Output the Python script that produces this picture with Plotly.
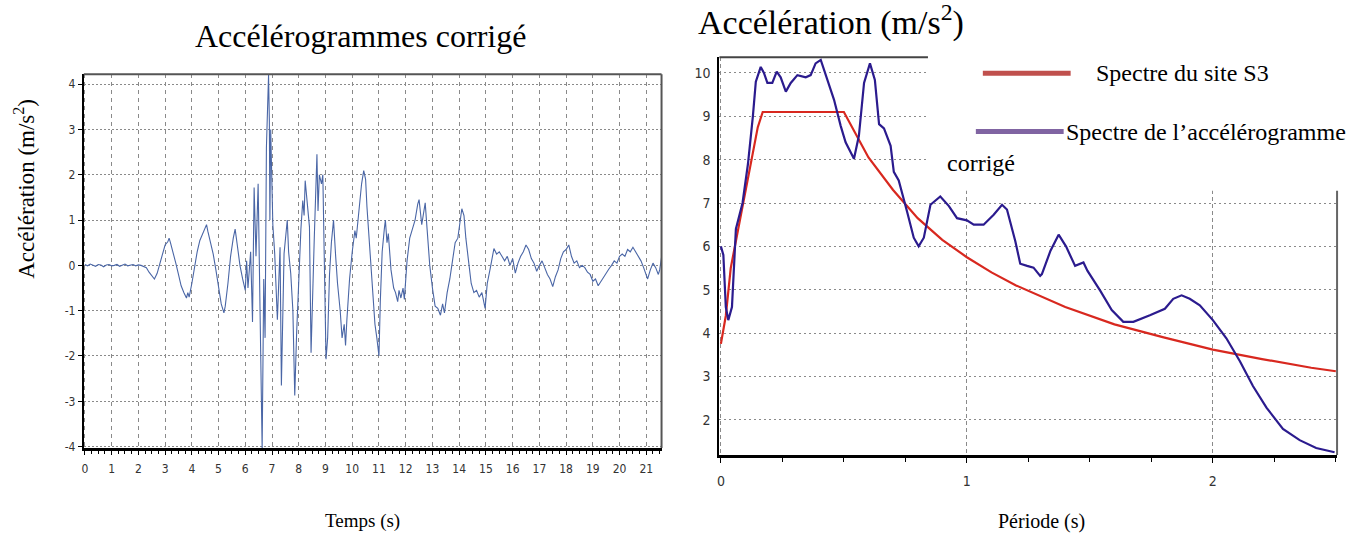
import plotly.graph_objects as go

# --- Accélérogramme corrigé : temps (s) / accélération (m/s²) ---
temps = [
    0.0, 0.1, 0.2, 0.3, 0.4, 0.5, 0.6, 0.7, 0.8, 0.9,
    1.0, 1.1, 1.2, 1.3, 1.4, 1.5, 1.6, 1.7, 1.8, 1.9,
    2.0, 2.1, 2.2, 2.3, 2.4, 2.5, 2.6, 2.7, 2.8, 2.9,
    3.0, 3.1, 3.15, 3.2, 3.3, 3.4, 3.5, 3.6, 3.7, 3.8,
    3.85, 3.9, 4.0, 4.1, 4.2, 4.3, 4.4, 4.5, 4.55, 4.6,
    4.7, 4.8, 4.9, 5.0, 5.1, 5.2, 5.25, 5.35, 5.45, 5.55,
    5.62, 5.7, 5.8, 5.9, 6.0, 6.05, 6.1, 6.2, 6.27, 6.33,
    6.4, 6.48, 6.55, 6.63, 6.69, 6.74, 6.79, 6.87, 6.9, 6.92,
    6.95, 6.99, 7.03, 7.1, 7.2, 7.3, 7.35, 7.45, 7.57, 7.62,
    7.7, 7.78, 7.85, 7.92, 8.0, 8.08, 8.15, 8.2, 8.24, 8.3,
    8.4, 8.46, 8.52, 8.58, 8.68, 8.72, 8.77, 8.85, 8.9, 8.96,
    9.02, 9.08, 9.15, 9.22, 9.3, 9.38, 9.45, 9.55, 9.62, 9.7,
    9.75, 9.8, 9.9, 10.0, 10.1, 10.15, 10.25, 10.35, 10.43, 10.5,
    10.55, 10.65, 10.75, 10.85, 10.92, 11.0, 11.05, 11.12, 11.2, 11.24,
    11.3, 11.35, 11.45, 11.55, 11.62, 11.7, 11.75, 11.82, 11.9, 11.95,
    12.05, 12.15, 12.25, 12.35, 12.45, 12.5, 12.6, 12.68, 12.73, 12.8,
    12.9, 13.0, 13.1, 13.2, 13.3, 13.38, 13.45, 13.55, 13.65, 13.75,
    13.85, 13.95, 14.05, 14.1, 14.18, 14.25, 14.35, 14.45, 14.55, 14.65,
    14.75, 14.85, 14.97, 15.05, 15.16, 15.3, 15.4, 15.5, 15.6, 15.7,
    15.8, 15.9, 16.0, 16.1, 16.2, 16.3, 16.4, 16.5, 16.6, 16.7,
    16.8, 16.9, 17.0, 17.1, 17.2, 17.3, 17.4, 17.5, 17.6, 17.7,
    17.8, 17.9, 18.0, 18.1, 18.2, 18.3, 18.4, 18.5, 18.6, 18.7,
    18.8, 18.9, 19.0, 19.1, 19.2, 19.3, 19.4, 19.5, 19.6, 19.7,
    19.8, 19.9, 20.0, 20.1, 20.2, 20.3, 20.4, 20.5, 20.6, 20.7,
    20.8, 20.9, 21.0, 21.05, 21.15, 21.25, 21.35, 21.45, 21.5, 21.55,
    21.6,
]
acceleration = [
    0.02, -0.01, 0.03, 0.0, -0.02, 0.02, 0.01, -0.03, 0.01, 0.02,
    -0.01, 0.0, 0.02, -0.02, 0.01, 0.03, -0.01, 0.0, 0.02, -0.01,
    0.01, 0.0, -0.02, -0.05, -0.15, -0.22, -0.3, -0.18, 0.05, 0.25,
    0.45, 0.52, 0.6, 0.5, 0.3, 0.05, -0.2, -0.45, -0.6, -0.72,
    -0.6, -0.7, -0.4, -0.05, 0.3, 0.55, 0.7, 0.85, 0.9, 0.75,
    0.5, 0.25, -0.1, -0.5, -0.85, -1.05, -0.9, -0.4, 0.2, 0.6,
    0.8, 0.45, 0.0, -0.3, -0.55, 0.1, -0.5, 0.3, -1.25, 1.72,
    0.2, 1.8, -0.5, -4.05, -0.3, -1.6, 2.6, 4.2, 3.2, 1.0,
    3.0, 2.2, 0.9, 0.26, -1.2, 0.4, -2.65, 0.26, 1.0, 0.3,
    -0.18, -1.0, -2.87, -1.5, -0.18, 0.8, 1.43, 1.1, 1.87, 1.5,
    0.85, -1.93, -0.5, 0.6, 2.45, 1.2, 2.0, 1.8, 2.0, -0.5,
    -2.07, -1.6, -0.2, 0.5, 1.0, 0.2, -0.4, -1.0, -1.6, -1.3,
    -1.77, -1.2, -0.3, 0.3, 0.77, 0.6, 1.2, 1.8, 2.09, 1.9,
    1.3, 0.5, -0.5, -1.3, -1.6, -2.0, -0.8, 0.3, 0.8, 1.0,
    0.5, 0.7, -0.1, -0.5, -0.6, -0.8, -0.55, -0.72, -0.5, -0.75,
    0.1, 0.6, 0.8, 1.0, 1.35, 1.45, 0.9, 1.2, 1.38, 0.8,
    0.0, -0.5, -0.9, -0.95, -1.1, -0.85, -1.05, -0.6, -0.3, 0.1,
    0.5, 0.6, 1.0, 1.25, 1.1, 0.6, 0.1, -0.4, -0.6, -0.55,
    -0.7, -0.6, -0.95, -0.4, -0.07, 0.37, 0.25, 0.3, 0.2, 0.1,
    0.2, 0.0, 0.15, -0.17, 0.05, 0.2, 0.3, 0.45, 0.35, 0.15,
    0.05, -0.13, 0.0, 0.1, -0.05, -0.2, -0.3, -0.47, -0.25, -0.1,
    0.15, 0.3, 0.35, 0.45, 0.2, 0.05, 0.1, -0.05, 0.0, -0.05,
    -0.15, -0.2, -0.35, -0.3, -0.45, -0.35, -0.25, -0.15, -0.08, 0.0,
    0.1, 0.05, 0.2, 0.25, 0.2, 0.35, 0.3, 0.4, 0.3, 0.2,
    0.1, -0.05, -0.2, -0.3, -0.1, 0.05, -0.05, -0.2, -0.1, 0.15,
    0.3,
]
assert len(temps) == len(acceleration)

# --- Spectre réglementaire du site S3 ---
periode_site = [0.0, 0.01, 0.02, 0.04, 0.08, 0.12, 0.15, 0.17, 0.3, 0.4,
                0.5, 0.6, 0.7, 0.8, 0.9, 1.0, 1.1, 1.2, 1.4, 1.6,
                1.8, 2.0, 2.2, 2.4, 2.5]
spectre_site = [3.75, 4.1, 4.4, 5.5, 6.7, 7.85, 8.75, 9.1, 9.1, 9.1,
                9.1, 8.05, 7.3, 6.65, 6.15, 5.75, 5.4, 5.1, 4.6, 4.2,
                3.9, 3.62, 3.4, 3.2, 3.12]

# --- Spectre de réponse de l'accélérogramme corrigé ---
periode_acc = [0.0, 0.01, 0.02, 0.03, 0.045, 0.061, 0.088, 0.11, 0.13, 0.142,
               0.162, 0.175, 0.189, 0.209, 0.227, 0.243, 0.264, 0.284, 0.311, 0.345,
               0.365, 0.385, 0.406, 0.419, 0.44, 0.46, 0.487, 0.507, 0.541, 0.561,
               0.582, 0.606, 0.626, 0.643, 0.663, 0.69, 0.703, 0.723, 0.757, 0.784,
               0.804, 0.825, 0.852, 0.892, 0.927, 0.96, 1.0, 1.028, 1.068, 1.109,
               1.143, 1.163, 1.197, 1.217, 1.245, 1.271, 1.298, 1.305, 1.34, 1.373,
               1.403, 1.44, 1.474, 1.49, 1.542, 1.589, 1.636, 1.677, 1.744, 1.805,
               1.839, 1.873, 1.906, 1.947, 2.0, 2.055, 2.11, 2.163, 2.218, 2.285,
               2.353, 2.42, 2.495]
spectre_acc = [6.0, 5.8, 4.6, 4.3, 4.6, 6.4, 7.0, 7.9, 9.0, 9.8,
               10.14, 10.0, 9.77, 9.77, 10.03, 9.9, 9.57, 9.77, 9.95, 9.9,
               9.95, 10.22, 10.3, 10.07, 9.75, 9.38, 8.78, 8.4, 8.02, 8.55,
               9.77, 10.22, 9.84, 8.82, 8.72, 8.32, 7.72, 7.52, 6.8, 6.2,
               6.0, 6.2, 6.96, 7.15, 6.93, 6.65, 6.6, 6.5, 6.5, 6.73,
               6.96, 6.85, 6.12, 5.6, 5.55, 5.51, 5.32, 5.36, 5.9, 6.27,
               6.0, 5.55, 5.63, 5.44, 4.98, 4.53, 4.26, 4.26, 4.41, 4.56,
               4.79, 4.87, 4.79, 4.64, 4.3, 3.88, 3.35, 2.78, 2.28, 1.79,
               1.53, 1.35, 1.25]
assert len(periode_acc) == len(spectre_acc)

# --- Graduations ---
ticks_temps = list(range(0, 22))
ticks_acc = [-4, -3, -2, -1, 0, 1, 2, 3, 4]
labels_acc = ["-4", "-3", "-2", "-1", "0", "1", "2", "3", "4"]
ticks_periode = [0, 1, 2]
ticks_spectre = [2, 3, 4, 5, 6, 7, 8, 9, 10]

W, H = 1362, 541


def fx(px):
    return px / W


def fy(py):
    return 1 - py / H


SERIF = "Liberation Serif, Times New Roman, serif"
NARROW = "Liberation Sans Narrow, DejaVu Sans Condensed, Arial Narrow, sans-serif"
GRID = "#8a8a8a"

fig = go.Figure()

fig.add_trace(go.Scatter(
    x=temps, y=acceleration, mode="lines",
    line=dict(color="#4a66a6", width=1.1),
    xaxis="x", yaxis="y", showlegend=False, hoverinfo="skip",
))
fig.add_trace(go.Scatter(
    x=periode_site, y=spectre_site, mode="lines",
    line=dict(color="#d8281f", width=2.2),
    xaxis="x2", yaxis="y2", showlegend=False,
))
fig.add_trace(go.Scatter(
    x=periode_acc, y=spectre_acc, mode="lines",
    line=dict(color="#2b1b8e", width=2.2),
    xaxis="x2", yaxis="y2", showlegend=False,
))

fig.update_layout(
    width=W, height=H, autosize=False,
    margin=dict(l=0, r=0, t=0, b=0),
    paper_bgcolor="white", plot_bgcolor="white",
    showlegend=False,
    xaxis=dict(
        domain=[fx(81), fx(660)], anchor="y",
        range=[-0.04, 21.57],
        tickmode="array", tickvals=ticks_temps,
        ticktext=[str(v) for v in ticks_temps],
        ticks="outside", ticklen=4, tickcolor="black",
        ticklabelstandoff=4,
        tickfont=dict(family=NARROW, size=12, color="#333"),
        minor=dict(dtick=0.25, tick0=0, ticks="outside", ticklen=3,
                   tickcolor="black", showgrid=False),
        showline=True, linecolor="black", linewidth=3,
        showgrid=True, gridcolor=GRID, gridwidth=1, griddash="4px,4px",
        zeroline=False,
    ),
    yaxis=dict(
        domain=[fy(453), fy(75)], anchor="x",
        range=[-4.03, 4.22],
        tickmode="array", tickvals=ticks_acc, ticktext=labels_acc,
        ticks="outside", ticklen=4, tickcolor="black",
        tickfont=dict(family=NARROW, size=12, color="#333"),
        showline=True, linecolor="black", linewidth=2,
        showgrid=True, gridcolor=GRID, gridwidth=1, griddash="2px,2px",
        zeroline=False,
    ),
    xaxis2=dict(
        domain=[fx(718), fx(1337)], anchor="y2",
        range=[-0.006, 2.505],
        tickmode="array", tickvals=ticks_periode,
        ticktext=[str(v) for v in ticks_periode],
        ticks="outside", ticklen=5, tickcolor="black",
        ticklabelstandoff=6,
        tickfont=dict(family=NARROW, size=14, color="#333"),
        minor=dict(dtick=0.25, tick0=0, ticks="outside", ticklen=4,
                   tickcolor="black", showgrid=False),
        showline=True, linecolor="black", linewidth=3,
        showgrid=True, gridcolor=GRID, gridwidth=1, griddash="4px,3px",
        zeroline=False,
    ),
    yaxis2=dict(
        domain=[fy(460), fy(58)], anchor="x2",
        range=[1.19, 10.36],
        tickmode="array", tickvals=ticks_spectre,
        ticktext=[str(v) for v in ticks_spectre],
        ticks="", ticklabelstandoff=4,
        tickfont=dict(family=NARROW, size=14, color="#333"),
        showline=True, linecolor="black", linewidth=2,
        showgrid=True, gridcolor=GRID, gridwidth=1, griddash="2px,3px",
        zeroline=False,
    ),
)

shapes = [
    # cadre du graphique de gauche (haut et droite)
    dict(type="line", xref="x domain", yref="y domain", x0=0, x1=1, y0=1, y1=1,
         line=dict(color="#555", width=2)),
    dict(type="line", xref="x domain", yref="y domain", x0=1, x1=1, y0=0, y1=1,
         line=dict(color="#555", width=2)),
    # cadre du graphique de droite
    dict(type="line", xref="x2 domain", yref="y2 domain", x0=0, x1=1, y0=1, y1=1,
         line=dict(color="#444", width=2)),
    dict(type="line", xref="x2 domain", yref="y2 domain", x0=1, x1=1, y0=0, y1=1,
         line=dict(color="#666", width=2)),
    # zone de légende
    dict(type="rect", xref="paper", yref="paper",
         x0=fx(927), x1=1, y0=fy(193), y1=fy(40),
         fillcolor="white", line=dict(width=0), layer="above"),
    dict(type="line", xref="paper", yref="paper",
         x0=fx(982), x1=fx(1070), y0=fy(74), y1=fy(74),
         line=dict(color="#c0504d", width=5), layer="above"),
    dict(type="line", xref="paper", yref="paper",
         x0=fx(975), x1=fx(1063), y0=fy(133), y1=fy(133),
         line=dict(color="#8064a2", width=5), layer="above"),
]
fig.update_layout(shapes=shapes)


def label(text, x, y, size, xanchor="center", angle=0):
    return dict(text=text, x=fx(x), y=fy(y), xref="paper", yref="paper",
                xanchor=xanchor, yanchor="middle", showarrow=False,
                textangle=angle,
                font=dict(family=SERIF, size=size, color="black"))


fig.update_layout(annotations=[
    label("Accélérogrammes corrigé", 358, 36, 32),
    label("Accélération (m/s<sup>2</sup>)", 695, 21, 34, xanchor="left"),
    label("Accélération (m/s<sup>2</sup>)", 22, 191, 23, angle=-90),
    label("Temps (s)", 360, 527, 19),
    label("Période (s)", 1041, 527, 20),
    label("Spectre du site S3", 1093, 74, 24, xanchor="left"),
    label("Spectre de l’accélérogramme", 1063, 133, 24, xanchor="left"),
    label("corrigé", 944, 165, 24, xanchor="left"),
])

fig.write_html("out.html")
